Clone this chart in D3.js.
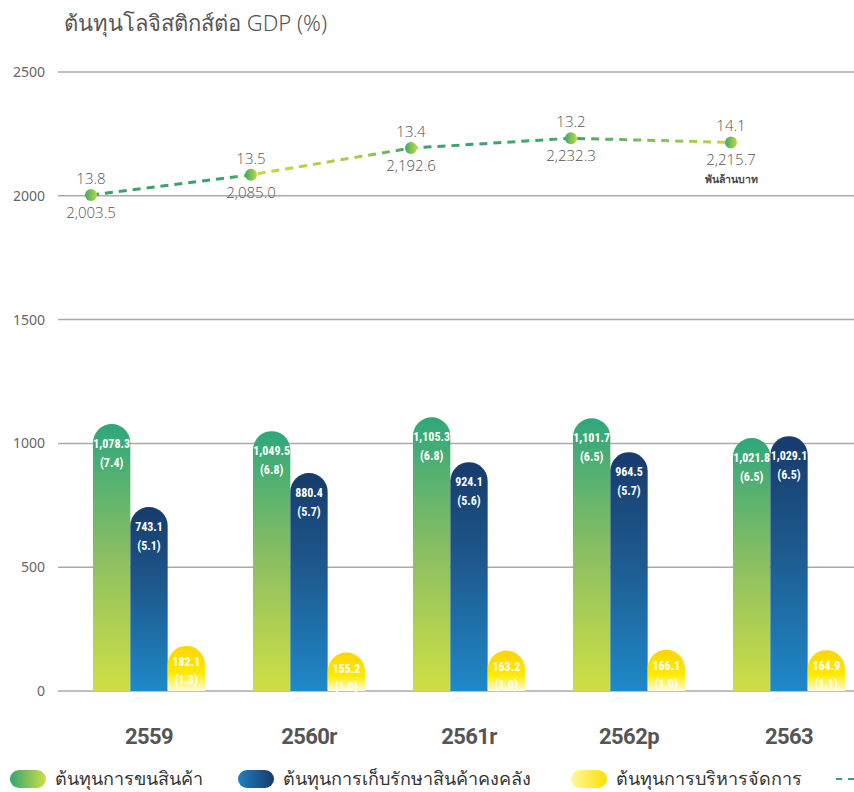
<!DOCTYPE html>
<html lang="th">
<head>
  <meta charset="UTF-8" />
  <title>ต้นทุนโลจิสติกส์ต่อ GDP</title>
  <style>
    body { margin: 0; background: white; font-family: "Noto Sans", "DejaVu Sans", sans-serif; }
    svg { display: block; }
    .grid line { stroke: #aaa; stroke-width: 1.5px; }
    .tick-label { font-size: 14px; fill: #666; }
    .bar-label { font-family: "Liberation Sans Narrow", "Roboto Condensed", "Roboto", sans-serif; font-weight: bold; font-size: 12px; fill: white; }
    .pt-label { font-size: 15px; fill: #555; font-weight: 300; font-family: "Open Sans", "Noto Sans", sans-serif; }
    .cat-label { font-size: 22px; font-weight: bold; fill: #555; font-family: "Roboto", sans-serif; letter-spacing: -0.6px; }
    .legend-label { font-size: 18px; fill: #333; }
  </style>
</head>
<body>
<svg width="854" height="792"></svg>
<script src="https://d3js.org/d3.v7.min.js"></script>
<script>
  const years = ["2559", "2560r", "2561r", "2562p", "2563"];
  const seriesKeys = ["transport", "warehouse", "admin"];
  const seriesNames = ["ต้นทุนการขนสินค้า", "ต้นทุนการเก็บรักษาสินค้าคงคลัง", "ต้นทุนการบริหารจัดการ"];
  const transport = [1078.3, 1049.5, 1105.3, 1101.7, 1021.8];
  const transportPct = [7.4, 6.8, 6.8, 6.5, 6.5];
  const warehouse = [743.1, 880.4, 924.1, 964.5, 1029.1];
  const warehousePct = [5.1, 5.7, 5.6, 5.7, 6.5];
  const admin = [182.1, 155.2, 163.2, 166.1, 164.9];
  const adminPct = [1.3, 1.0, 1.0, 1.0, 1.1];
  const totalCost = [2003.5, 2085.0, 2192.6, 2232.3, 2215.7];
  const totalPct = [13.8, 13.5, 13.4, 13.2, 14.1];
  const yTicks = [0, 500, 1000, 1500, 2000, 2500];

  const svg = d3.select("svg");
  const defs = svg.append("defs");

  function vGrad(id, stops) {
    const g = defs.append("linearGradient").attr("id", id)
      .attr("x1", 0).attr("y1", 0).attr("x2", 0).attr("y2", 1);
    stops.forEach(s => g.append("stop").attr("offset", s[0]).attr("stop-color", s[1]));
  }
  function hGrad(id, stops) {
    const g = defs.append("linearGradient").attr("id", id)
      .attr("x1", 0).attr("y1", 0).attr("x2", 1).attr("y2", 0);
    stops.forEach(s => g.append("stop").attr("offset", s[0]).attr("stop-color", s[1]));
  }
  vGrad("g-transport", [[0, "#2ea77b"], [0.5, "#8cbf62"], [1, "#cfdf45"]]);
  vGrad("g-warehouse", [[0, "#173b6d"], [0.45, "#1e5a8e"], [1, "#1f89c9"]]);
  vGrad("g-admin", [[0, "#ffd400"], [0.6, "#ffea00"], [1, "#fffbe0"]]);
  hGrad("l-transport", [[0, "#35a56c"], [1, "#cfdf45"]]);
  hGrad("l-warehouse", [[0, "#1f7fc2"], [1, "#173b6d"]]);
  hGrad("l-admin", [[0, "#fff7a0"], [1, "#ffe000"]]);
  hGrad("dot", [[0, "#3aa86e"], [1, "#c5d83c"]]);

  const x = d3.scaleBand().domain(years).range([69, 869]).paddingInner(0.3).paddingOuter(0.15);
  const xs = d3.scaleBand().domain(seriesKeys).range([0, x.bandwidth()]).padding(0);
  const y = d3.scaleLinear().domain([0, 2500]).range([691, 72]);

  // title
  svg.append("text").attr("x", 64).attr("y", 31)
    .attr("font-size", 22).attr("fill", "#555").attr("font-weight", 300)
    .text("ต้นทุนโลจิสติกส์ต่อ GDP (%)");

  // grid
  const grid = svg.append("g").attr("class", "grid");
  grid.selectAll("line").data(yTicks).join("line")
    .attr("x1", 58).attr("x2", 854)
    .attr("y1", d => y(d)).attr("y2", d => y(d));
  svg.append("g").selectAll("text").data(yTicks).join("text")
    .attr("class", "tick-label")
    .attr("x", 45).attr("y", d => y(d) + 5)
    .attr("text-anchor", "end")
    .text(d => d);

  // bars
  const rows = years.map((yr, i) => ({
    year: yr,
    items: [
      { key: "transport", v: transport[i], p: transportPct[i] },
      { key: "warehouse", v: warehouse[i], p: warehousePct[i] },
      { key: "admin", v: admin[i], p: adminPct[i] }
    ]
  }));
  const fmt = d3.format(",.1f");
  const groups = svg.append("g").selectAll("g").data(rows).join("g")
    .attr("transform", d => `translate(${x(d.year)},0)`);
  groups.selectAll("path").data(d => d.items).join("path")
    .attr("fill", d => `url(#g-${d.key})`)
    .attr("d", d => {
      const x0 = xs(d.key), w = xs.bandwidth(), r = w / 2;
      const top = y(d.v), base = y(0);
      return `M${x0},${base} L${x0},${top + r} A${r},${r} 0 0 1 ${x0 + w},${top + r} L${x0 + w},${base} Z`;
    });
  groups.selectAll("text.v").data(d => d.items).join("text")
    .attr("class", "bar-label v")
    .attr("x", d => xs(d.key) + xs.bandwidth() / 2)
    .attr("y", d => y(d.v) + (d.v < 300 ? 20 : 24))
    .attr("text-anchor", "middle")
    .text(d => fmt(d.v));
  groups.selectAll("text.p").data(d => d.items).join("text")
    .attr("class", "bar-label p")
    .attr("x", d => xs(d.key) + xs.bandwidth() / 2)
    .attr("y", d => y(d.v) + (d.v < 300 ? 38 : 43))
    .attr("text-anchor", "middle")
    .text(d => `(${d.p.toFixed(1)})`);

  // category labels
  svg.append("g").selectAll("text").data(years).join("text")
    .attr("class", "cat-label")
    .attr("x", d => x(d) + x.bandwidth() / 2)
    .attr("y", 744)
    .attr("text-anchor", "middle")
    .text(d => d);

  // total line
  const pts = years.map((yr, i) => ({ x: x(yr) - 2, y: y(totalCost[i]), v: totalCost[i], p: totalPct[i] }));
  const lg = defs.append("linearGradient").attr("id", "line-grad")
    .attr("gradientUnits", "userSpaceOnUse")
    .attr("x1", pts[0].x).attr("x2", pts[4].x).attr("y1", 0).attr("y2", 0);
  [[0, "#3aa072"], [0.22, "#3fa26e"], [0.26, "#c6d840"], [0.42, "#a8c94c"], [0.5, "#3aa072"],
   [0.76, "#45a66c"], [1, "#c6d840"]].forEach(s => lg.append("stop").attr("offset", s[0]).attr("stop-color", s[1]));
  svg.append("path")
    .datum(pts)
    .attr("fill", "none")
    .attr("stroke", "url(#line-grad)")
    .attr("stroke-width", 3)
    .attr("stroke-dasharray", "8,6")
    .attr("d", d3.line().x(d => d.x).y(d => d.y));
  svg.append("g").selectAll("circle").data(pts).join("circle")
    .attr("cx", d => d.x).attr("cy", d => d.y).attr("r", 6)
    .attr("fill", "url(#dot)");
  svg.append("g").selectAll("text").data(pts).join("text")
    .attr("class", "pt-label")
    .attr("x", d => d.x).attr("y", d => d.y - 11)
    .attr("text-anchor", "middle")
    .text(d => d.p.toFixed(1));
  svg.append("g").selectAll("text").data(pts).join("text")
    .attr("class", "pt-label")
    .attr("x", d => d.x).attr("y", d => d.y + 23)
    .attr("text-anchor", "middle")
    .text(d => fmt(d.v));
  svg.append("text")
    .attr("x", pts[4].x).attr("y", pts[4].y + 41)
    .attr("text-anchor", "middle")
    .attr("font-size", 10.5).attr("fill", "#444").attr("font-weight", "bold")
    .text("พันล้านบาท");

  // legend
  const legendX = [10, 238, 571];
  const leg = svg.append("g").selectAll("g").data(seriesKeys).join("g")
    .attr("transform", (d, i) => `translate(${legendX[i]},770)`);
  leg.append("rect").attr("width", 36).attr("height", 18).attr("rx", 9)
    .attr("fill", d => `url(#l-${d})`);
  leg.append("text").attr("class", "legend-label")
    .attr("x", 45).attr("y", 15)
    .text((d, i) => seriesNames[i]);
  svg.append("line")
    .attr("x1", 836).attr("x2", 856).attr("y1", 779).attr("y2", 779)
    .attr("stroke", "#3aa072").attr("stroke-width", 2)
    .attr("stroke-dasharray", "6,6");
</script>
</body>
</html>
